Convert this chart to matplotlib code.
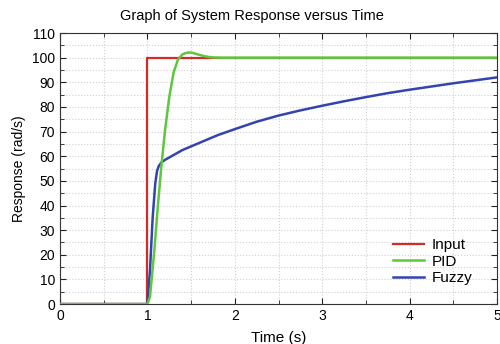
import numpy as np
import matplotlib
matplotlib.use('Agg')
from matplotlib import pyplot as plt
from matplotlib.ticker import MultipleLocator

plt.rcParams['font.family'] = ['Liberation Sans', 'DejaVu Sans']

# 输入信号（阶跃）
t_input = [0, 1, 1, 5]
y_input = [0, 0, 100, 100]

# PID 响应
t_pid = [0, 1.0, 1.03, 1.08, 1.12, 1.16, 1.2, 1.25, 1.3, 1.35, 1.4, 1.44,
         1.47, 1.51, 1.55, 1.6, 1.65, 1.7, 1.75, 1.85, 2.0, 5.0]
y_pid = [0, 0, 3, 22, 40, 56, 70, 84, 94, 99.3, 101.3, 101.9,
         102.1, 102.0, 101.6, 101.1, 100.6, 100.3, 100.1, 100.0, 100.0, 100.0]

# 模糊控制响应
t_fuzzy = [0, 1.0, 1.03, 1.06, 1.09, 1.11, 1.13, 1.16, 1.2, 1.3, 1.4, 1.6,
           1.8, 2.0, 2.25, 2.5, 2.75, 3.0, 3.25, 3.5, 3.75, 4.0, 4.25, 4.5,
           4.75, 5.0]
y_fuzzy = [0, 0, 14, 35, 49, 54, 56, 57.5, 58.5, 60.5, 62.5, 65.5,
           68.5, 71, 74, 76.5, 78.6, 80.5, 82.3, 84, 85.6, 87, 88.3, 89.6,
           90.8, 92]

fig = plt.figure(figsize=(5.0, 3.44), dpi=100)
ax = fig.add_axes([0.12, 0.116, 0.874, 0.788])

ax.plot(t_input, y_input, color='#d42a2a', lw=1.6, label='Input', zorder=3)
ax.plot(t_fuzzy, y_fuzzy, color='#3344b0', lw=1.8, label='Fuzzy', zorder=4)
ax.plot(t_pid, y_pid, color='#5cc83c', lw=1.8, label='PID', zorder=5)

ax.set_xlim(0, 5)
ax.set_ylim(0, 110)
ax.xaxis.set_major_locator(MultipleLocator(1))
ax.xaxis.set_minor_locator(MultipleLocator(0.5))
ax.yaxis.set_major_locator(MultipleLocator(10))
ax.yaxis.set_minor_locator(MultipleLocator(5))
ax.tick_params(which='both', direction='in', top=True, right=True,
               labelsize=10, color='#222222')
ax.tick_params(which='major', length=4)
ax.tick_params(which='minor', length=3)
ax.grid(which='both', ls=':', color='#d0d0d0', lw=0.8)
for s in ax.spines.values():
    s.set_color('#333333')

fig.text(0.504, 0.953, 'Graph of System Response versus Time',
         fontsize=10.5, ha='center', va='center')
ax.set_xlabel('Time (s)', fontsize=11, labelpad=6)
ax.set_ylabel('Response (rad/s)', fontsize=10)

h, l = ax.get_legend_handles_labels()
order = [0, 2, 1]
ax.legend([h[i] for i in order], [l[i] for i in order], loc='lower right',
          frameon=False, fontsize=11, handlelength=2.0, handletextpad=0.5,
          labelspacing=0.15, bbox_to_anchor=(0.975, 0.02))

fig.savefig('out.png', dpi=100)
